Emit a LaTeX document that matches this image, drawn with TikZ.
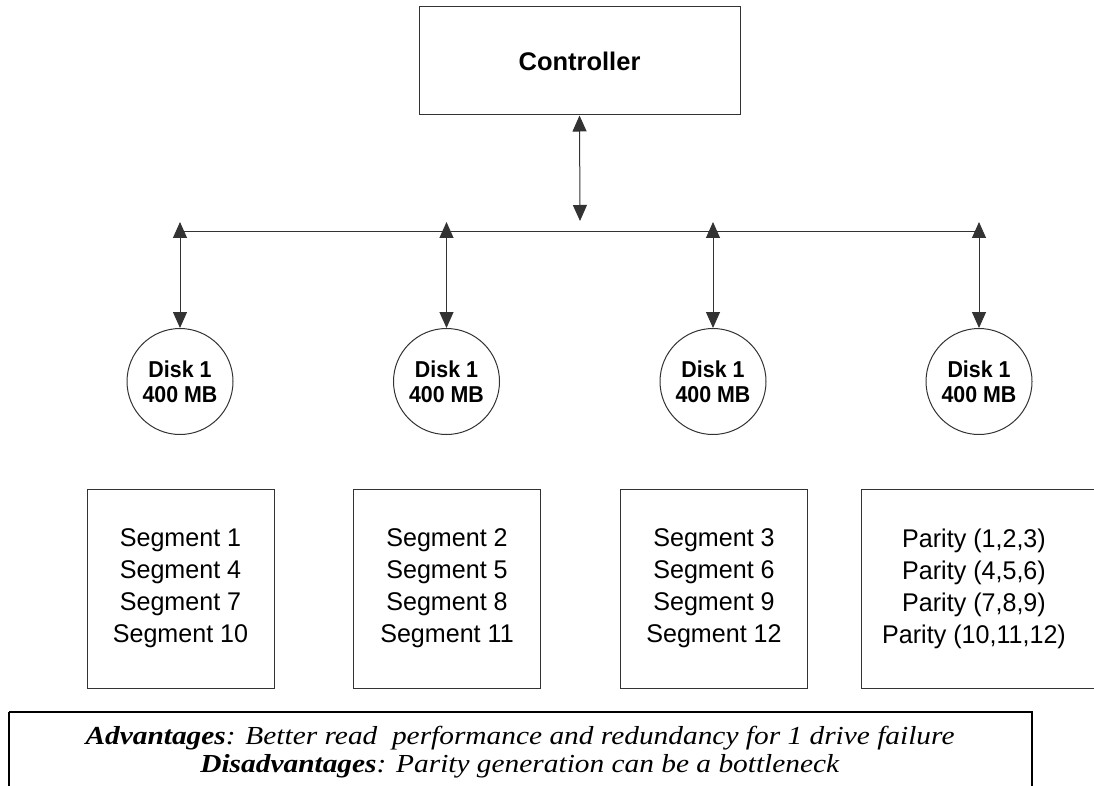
\documentclass[tikz,border=0pt]{standalone}
\usepackage{fontspec}
\setmainfont{Liberation Serif}
\setsansfont{Liberation Sans}
\newfontfamily\notefont[FakeStretch=1.13]{Liberation Serif}
\newfontfamily\diskfont[FakeStretch=0.93]{Liberation Sans}
\newfontfamily\segfont[FakeStretch=0.98]{Liberation Sans}
\usetikzlibrary{arrows.meta}

\begin{document}
\begin{tikzpicture}[x=1pt,y=-1pt,
  thin line/.style={draw=black!80, line width=1pt},
  link/.style={thin line,
    {Triangle[width=14pt,length=16pt]}-{Triangle[width=14pt,length=16pt]}},
  ctrlbox/.style={thin line, rectangle, minimum width=321pt, minimum height=108pt,
    inner sep=0pt, font=\sffamily\bfseries\fontsize{25.5}{30}\selectfont},
  disk/.style={thin line, circle, minimum size=106pt, inner sep=0pt, align=center,
    font=\diskfont\bfseries\fontsize{23}{25}\selectfont},
  segtext/.style={inner sep=0pt, align=center, font=\segfont\fontsize{25.6}{32}\selectfont},
  segbox/.style={segtext, thin line, rectangle, minimum width=187pt, minimum height=199pt},
  note/.style={anchor=base, inner sep=0pt, font=\notefont\fontsize{26}{28}\selectfont}
]
\useasboundingbox (0,0) rectangle (1094,786);

% controller and its link down to the bus
\node[ctrlbox] (ctrl) at (579.5,61) {Controller};
\coordinate (cbus) at (580,221);
\draw[link] (ctrl.south) -- (cbus);

% bus
\coordinate (b1) at (180,232);
\coordinate (b4) at (979,232);
\draw[thin line] (b1) -- (b4);

% disks
\foreach \i/\x in {1/180,2/446.5,3/713,4/979}{
  \node[disk] (d\i) at (\x,381.5) {Disk 1\\400 MB};
  \coordinate (t\i) at (\x,222);
  \draw[link] (t\i) -- (d\i.north);
}

% stripe contents
\node[segbox] (s1) at (180.5,588.5) {Segment 1\\Segment 4\\Segment 7\\Segment 10};
\node[segbox] (s2) at (447,588.5) {Segment 2\\Segment 5\\Segment 8\\Segment 11};
\node[segbox] (s3) at (714,588.5) {Segment 3\\Segment 6\\Segment 9\\Segment 12};
\draw[thin line] (1100,489) -- (861,489) -- (861,688) -- (1100,688);
\node[segtext] (s4)
  at (974,588.5) {Parity (1,2,3)\\Parity (4,5,6)\\Parity (7,8,9)\\Parity (10,11,12)};

% summary panel
\draw[black, line width=2.5pt] (9,712) -- (9,800) (9,712) -- (1032,712) -- (1032,800);
\node[note] (adv) at (520,744)
  {\textbf{\textit{Advantages}}\textit{: Better read~~performance and redundancy for 1 drive failure}};
\node[note] (dis) at (520,772)
  {\textbf{\textit{Disadvantages}}\textit{: Parity generation can be a bottleneck}};
\end{tikzpicture}
\end{document}
